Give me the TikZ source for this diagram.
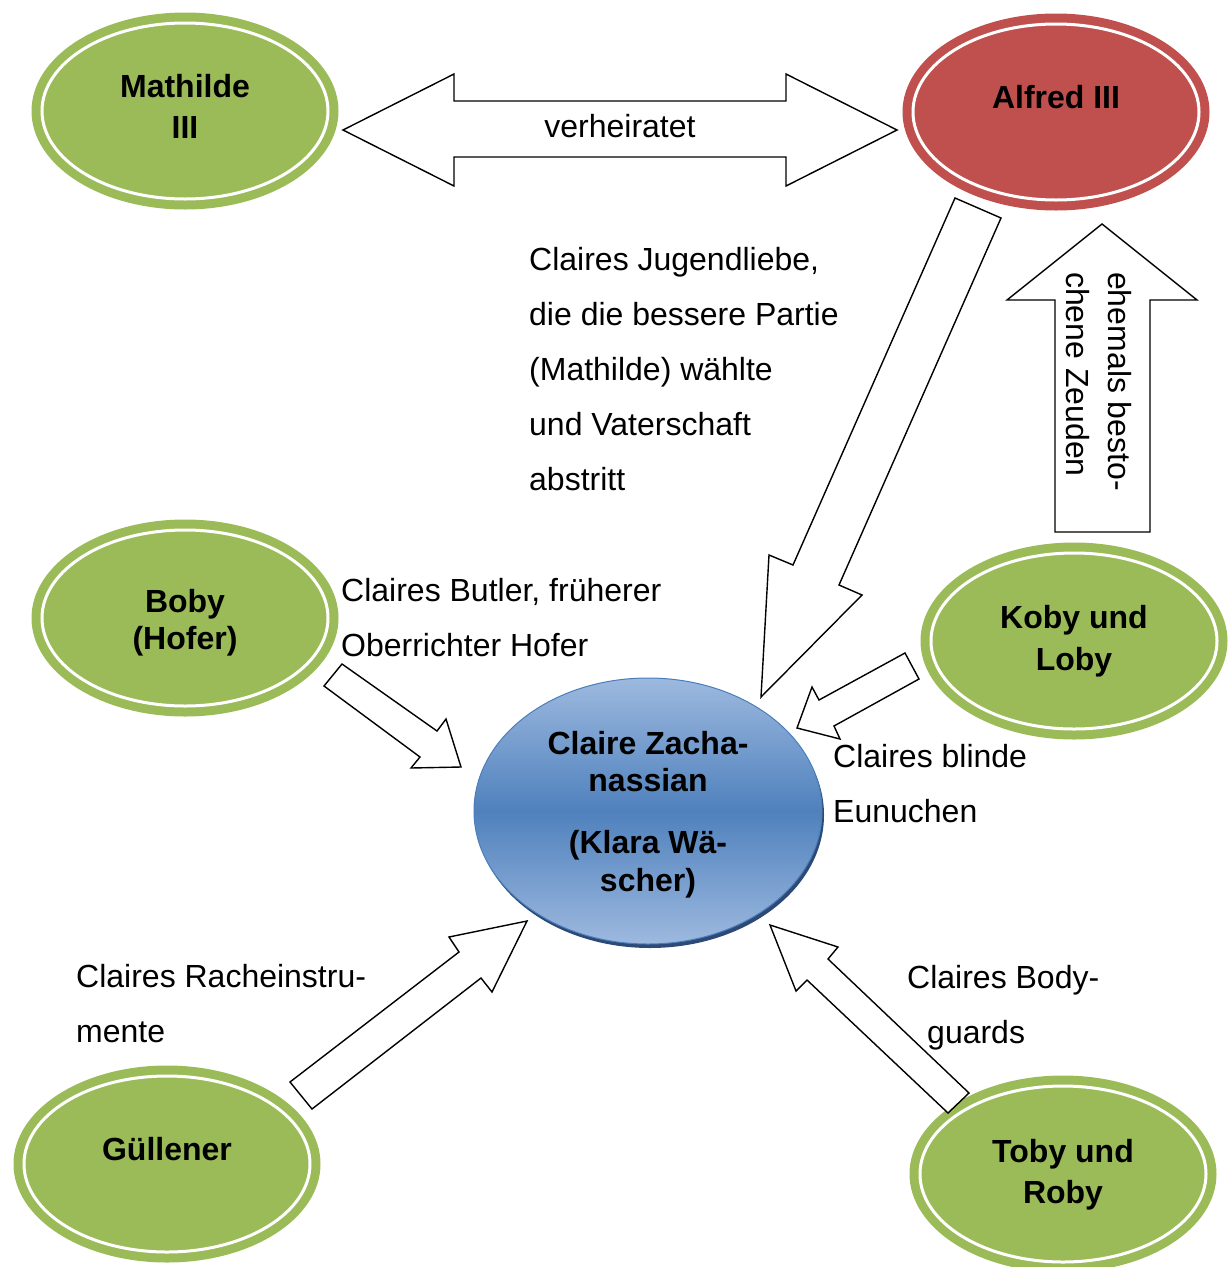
\documentclass[tikz,border=0pt]{standalone}
\usepackage{fontspec}
\setmainfont{Liberation Sans}
\usetikzlibrary{shapes.geometric}
\definecolor{cgreen}{HTML}{9BBB59}
\definecolor{cred}{HTML}{C0504D}
\definecolor{cblue}{HTML}{4F81BD}
\definecolor{cbluelight}{HTML}{9DB9DF}
\definecolor{cblueline}{HTML}{4A7EBB}
\definecolor{cshadow}{HTML}{2C4A75}
\begin{document}
\begin{tikzpicture}[x=1pt,y=-1pt,
  ringell/.style={ellipse, fill=#1, draw=none, inner sep=0pt, minimum width=307pt, minimum height=197pt},
  ringline/.style={white, line width=3pt},
  boldtxt/.style={font=\fontsize{32}{38}\selectfont\bfseries, inner sep=0pt, anchor=base},
  lbl/.style={font=\fontsize{32}{38}\selectfont, inner sep=0pt, anchor=base west},
  blockarrow/.style={draw=black, fill=white, line width=1.4pt, line join=miter}]
\useasboundingbox (0,0) rectangle (1231,1267);

% ellipses
\node[ringell=cgreen] (math) at (185,111) {};
\node[ringell=cred]   (alf)  at (1056,112) {};
\node[ringell=cgreen] (boby) at (185,618) {};
\node[ringell=cgreen] (koby) at (1074,641) {};
\node[ringell=cgreen] (gul)  at (167,1164) {};
\node[ringell=cgreen] (toby) at (1063,1174) {};
\foreach \n in {math,alf,boby,koby,gul,toby}
  \draw[ringline] (\n.center) ellipse [x radius=143pt, y radius=88pt];

% central ellipse
\fill[cshadow] (650,815) ellipse [x radius=174pt, y radius=133pt];
\node[ellipse, inner sep=0pt, minimum width=348pt, minimum height=266pt,
      draw=cblueline, line width=1pt,
      top color=cbluelight, bottom color=cbluelight, middle color=cblue] (claire) at (648,811) {};

% ellipse texts
\node[boldtxt] (tmath1) at (185,97) {Mathilde};
\node[boldtxt] (tmath2) at (185,138) {III};
\node[boldtxt] (talf) at (1056,108) {Alfred III};
\node[boldtxt] (tboby1) at (185,612) {Boby};
\node[boldtxt] (tboby2) at (185,649) {(Hofer)};
\node[boldtxt] (tkoby1) at (1074,628) {Koby und};
\node[boldtxt] (tkoby2) at (1074,670) {Loby};
\node[boldtxt] (tgul) at (167,1160) {Güllener};
\node[boldtxt] (ttoby1) at (1063,1162) {Toby und};
\node[boldtxt] (ttoby2) at (1063,1203) {Roby};
\node[boldtxt] (tcl1) at (648,754) {Claire Zacha-};
\node[boldtxt] (tcl2) at (648,791) {nassian};
\node[boldtxt] (tcl3) at (648,853) {(Klara Wä-};
\node[boldtxt] (tcl4) at (648,891) {scher)};

% block arrows
\draw[blockarrow] (343,130) -- (454,74) -- (454,101) -- (786,101) -- (786,74) -- (897,130)
  -- (786,186) -- (786,157) -- (454,157) -- (454,186) -- cycle;
\draw[blockarrow] (955,198) -- (1001,218) -- (839,585) -- (862,595) -- (761,697)
  -- (769,555) -- (793,565) -- cycle;
\draw[blockarrow] (1102,224) -- (1197,300) -- (1150,300) -- (1150,532) -- (1055,532)
  -- (1055,300) -- (1007,300) -- cycle;
\draw[blockarrow] (342,664) -- (437,731) -- (446,719) -- (461,767) -- (411,768)
  -- (420,757) -- (324,686) -- cycle;
\draw[blockarrow] (905,653) -- (919,679) -- (834,726) -- (840,739) -- (797,728)
  -- (812,687) -- (819,700) -- cycle;
\draw[blockarrow] (290,1082) -- (459,952) -- (449,937) -- (527,921) -- (492,992)
  -- (481,978) -- (312,1109) -- cycle;
\draw[blockarrow] (770,925) -- (838,947) -- (828,959) -- (969,1093) -- (948,1113)
  -- (807,980) -- (796,991) -- cycle;

% labels
\node[lbl, anchor=base] (verh) at (620,137) {verheiratet};
\node[lbl, rotate=-90] (rot1) at (1108,272) {ehemals besto-};
\node[lbl, rotate=-90] (rot2) at (1066,272) {chene Zeuden};

\node[lbl] (j1) at (529,270) {Claires Jugendliebe,};
\node[lbl] (j2) at (529,325) {die die bessere Partie};
\node[lbl] (j3) at (529,380) {(Mathilde) wählte};
\node[lbl] (j4) at (529,435) {und Vaterschaft};
\node[lbl] (j5) at (529,490) {abstritt};

\node[lbl] (b1) at (341,601) {Claires Butler, früherer};
\node[lbl] (b2) at (341,656) {Oberrichter Hofer};

\node[lbl] (e1) at (833,767) {Claires blinde};
\node[lbl] (e2) at (833,822) {Eunuchen};

\node[lbl] (r1) at (76,987) {Claires Racheinstru-};
\node[lbl] (r2) at (76,1042) {mente};

\node[lbl] (g1) at (907,988) {Claires Body-};
\node[lbl] (g2) at (927,1043) {guards};
\end{tikzpicture}
\end{document}
